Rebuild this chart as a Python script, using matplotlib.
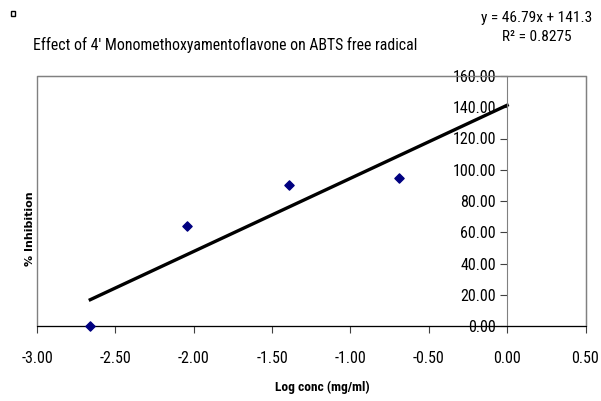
import numpy as np
import matplotlib.pyplot as plt
from matplotlib.patches import Rectangle

# data
log_conc = [-2.66, -2.04, -1.39, -0.69]
inhibition = [0.0, 64.0, 90.0, 95.0]
slope, intercept = 46.79, 141.3
x_ticks = [-3.0, -2.5, -2.0, -1.5, -1.0, -0.5, 0.0, 0.5]
y_ticks = [0, 20, 40, 60, 80, 100, 120, 140, 160]

narrow = ['Roboto Condensed', 'DejaVu Sans']
plt.rcParams['font.family'] = narrow

fig = plt.figure(figsize=(6.01, 4.01), dpi=100)
ax = fig.add_axes([37 / 601, 1 - 326 / 401, (585.5 - 37) / 601, 250 / 401])

ax.scatter(log_conc, inhibition, marker='D', s=22, color='#000080', zorder=3, clip_on=False)
xs = np.array([min(log_conc), 0.0])
ax.plot(xs, slope * xs + intercept, color='black', linewidth=2.4, zorder=2)

ax.set_xlim(-3, 0.5)
ax.set_ylim(0, 160)
ax.set_xticks(x_ticks)
ax.set_xticklabels(['%.2f' % v for v in x_ticks])
ax.set_yticks(y_ticks)
ax.set_yticklabels(['%.2f' % v for v in y_ticks])

# gray frame, y axis at x=0
for s in ['top', 'right']:
    ax.spines[s].set_color('#808080')
ax.spines['left'].set_position(('data', 0))
ax.spines['left'].set_color('#808080')
ax.spines['bottom'].set_color('black')
ax.add_patch(Rectangle((0, 0), 1, 1, transform=ax.transAxes, fill=False,
                       edgecolor='#808080', linewidth=1, zorder=0, clip_on=False))
ax.tick_params(axis='both', direction='out', length=5, labelsize=11.5, color='#404040')
ax.tick_params(axis='x', pad=13)
ax.tick_params(axis='y', pad=3)

fig.text(33 / 601, 1 - 45 / 401, "Effect of 4' Monomethoxyamentoflavone on ABTS free radical",
         fontsize=11.3, va='center', ha='left')
fig.text(537 / 601, 1 - 18 / 401, 'y = 46.79x + 141.3', fontsize=11.1, ha='center', va='center')
fig.text(537 / 601, 1 - 37 / 401, 'R² = 0.8275', fontsize=11.1, ha='center', va='center')
fig.text(322 / 601, 1 - 387 / 401, 'Log conc (mg/ml)', fontsize=9.6, fontweight='bold',
         ha='center', va='center')
fig.text(30 / 601, 1 - 229 / 401, '% Inhibition', fontsize=8, fontweight='bold',
         family=['DejaVu Sans'], rotation=90, ha='center', va='center')

# small square marker in top-left corner
fig.add_artist(Rectangle((11 / 601, 1 - 16 / 401), 4 / 601, 5 / 401, transform=fig.transFigure,
                         fill=False, edgecolor='black', linewidth=1))

fig.savefig('out.png', dpi=100)
